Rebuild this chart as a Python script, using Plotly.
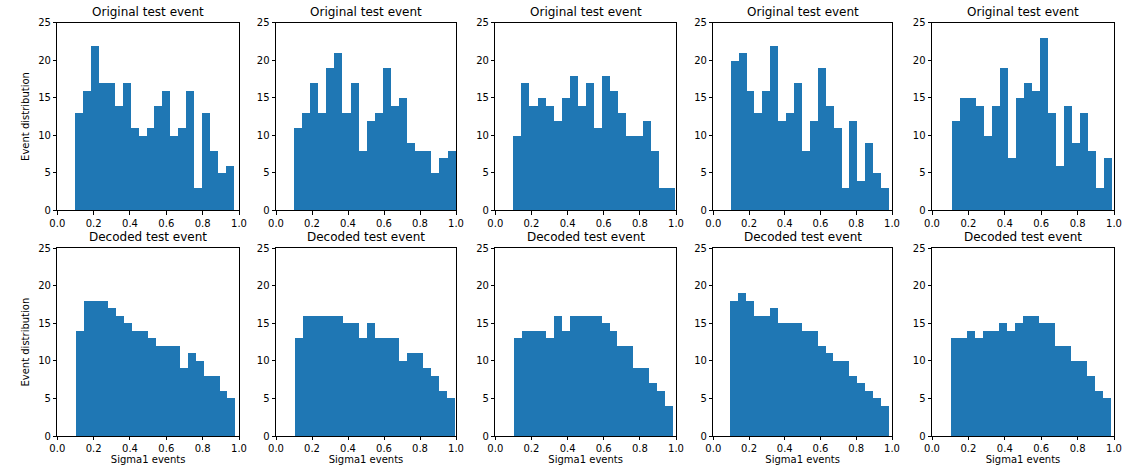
import numpy as np
import plotly.graph_objects as go

# Histogram counts (20 bins each)
orig_1 = [13, 16, 22, 17, 17, 14, 17, 11, 10, 11, 14, 16, 10, 11, 16, 3, 13, 8, 5, 6]
orig_2 = [11, 13, 17, 13, 19, 21, 13, 17, 8, 12, 13, 19, 14, 15, 9, 8, 8, 5, 7, 8]
orig_3 = [10, 17, 14, 15, 14, 12, 15, 18, 14, 17, 11, 18, 16, 13, 10, 10, 12, 8, 3, 3]
orig_4 = [20, 21, 16, 13, 16, 22, 12, 13, 17, 8, 12, 19, 14, 11, 3, 12, 4, 9, 5, 3]
orig_5 = [12, 15, 15, 14, 10, 14, 19, 7, 15, 17, 16, 23, 13, 6, 14, 9, 13, 8, 3, 7]

dec_1 = [14, 18, 18, 18, 17, 16, 15, 14, 14, 13, 12, 12, 12, 9, 11, 10, 8, 8, 6, 5]
dec_2 = [13, 16, 16, 16, 16, 16, 15, 15, 13, 15, 13, 13, 13, 10, 11, 11, 9, 8, 6, 5]
dec_3 = [13, 14, 14, 14, 13, 16, 14, 16, 16, 16, 16, 15, 14, 12, 12, 9, 9, 7, 6, 4]
dec_4 = [18, 19, 18, 16, 16, 17, 15, 15, 15, 14, 14, 12, 11, 10, 10, 8, 7, 6, 5, 4]
dec_5 = [13, 13, 14, 13, 14, 14, 15, 14, 15, 16, 16, 15, 15, 12, 12, 10, 10, 8, 6, 5]

# Data range (min, max of sigma1 values) per histogram
orig_range = [(0.101, 0.972), (0.100, 0.998), (0.101, 0.996), (0.099, 0.985), (0.108, 0.989)]
dec_range = [(0.106, 0.982), (0.108, 0.996), (0.107, 0.985), (0.097, 0.985), (0.103, 0.983)]

top_title = "Original test event"
bottom_title = "Decoded test event"
x_label = "Sigma1 events"
y_label = "Event distribution"
x_ticks = [0.0, 0.2, 0.4, 0.6, 0.8, 1.0]
x_ticktext = ["0.0", "0.2", "0.4", "0.6", "0.8", "1.0"]
y_ticks = [0, 5, 10, 15, 20, 25]

W, H = 1129, 465
col_px = [(57.3, 239.0), (276.0, 456.0), (495.3, 676.0), (713.3, 892.0), (932.0, 1114.0)]
row_px = [(22.7, 210.3), (248.3, 436.0)]

BLUE = "#1f77b4"
FONT = "DejaVu Sans"

fig = go.Figure()
layout = dict(
    width=W, height=H,
    margin=dict(l=0, r=0, t=0, b=0, autoexpand=False),
    paper_bgcolor="white", plot_bgcolor="white",
    showlegend=False, bargap=0,
    font=dict(family=FONT, size=10, color="black"),
)
annotations = []

panels = []
for r, (counts_list, ranges, title) in enumerate([
    ([orig_1, orig_2, orig_3, orig_4, orig_5], orig_range, top_title),
    ([dec_1, dec_2, dec_3, dec_4, dec_5], dec_range, bottom_title),
]):
    for c in range(5):
        panels.append((r, c, counts_list[c], ranges[c], title))

for i, (r, c, counts, rng, title) in enumerate(panels):
    idx = i + 1
    sfx = "" if idx == 1 else str(idx)
    edges = np.linspace(rng[0], rng[1], len(counts) + 1)
    centers = (edges[:-1] + edges[1:]) / 2
    widths = np.diff(edges)
    fig.add_trace(go.Bar(
        x=centers, y=counts, width=widths,
        marker=dict(color=BLUE, line=dict(width=0)),
        xaxis="x" + sfx, yaxis="y" + sfx,
        hoverinfo="skip",
    ))
    x0, x1 = col_px[c]
    y0, y1 = row_px[r]
    xd = [x0 / W, x1 / W]
    yd = [1 - y1 / H, 1 - y0 / H]
    xa = dict(
        domain=xd, range=[0, 1], tickvals=x_ticks, ticktext=x_ticktext,
        ticks="outside", ticklen=3.5, tickwidth=0.8, tickcolor="black",
        showline=True, linecolor="black", linewidth=0.8, mirror=True,
        showgrid=False, zeroline=False, anchor="y" + sfx,
        tickfont=dict(family=FONT, size=10, color="black"),
        fixedrange=True, automargin=False,
    )
    ya = dict(
        domain=yd, range=[0, 25], tickvals=y_ticks,
        ticks="outside", ticklen=3.5, tickwidth=0.8, tickcolor="black",
        showline=True, linecolor="black", linewidth=0.8, mirror=True,
        showgrid=False, zeroline=False, anchor="x" + sfx,
        tickfont=dict(family=FONT, size=10, color="black"),
        fixedrange=True, automargin=False,
    )
    if r == 1:
        xa["title"] = dict(text=x_label, font=dict(family=FONT, size=10, color="black"), standoff=2)
    if c == 0:
        ya["title"] = dict(text=y_label, font=dict(family=FONT, size=10, color="black"), standoff=6)
    layout["xaxis" + sfx] = xa
    layout["yaxis" + sfx] = ya
    annotations.append(dict(
        text=title, x=(xd[0] + xd[1]) / 2, y=yd[1], xref="paper", yref="paper",
        xanchor="center", yanchor="bottom", yshift=2, showarrow=False,
        font=dict(family=FONT, size=12, color="black"),
    ))

layout["annotations"] = annotations
fig.update_layout(**layout)
fig.write_html("out.html")
